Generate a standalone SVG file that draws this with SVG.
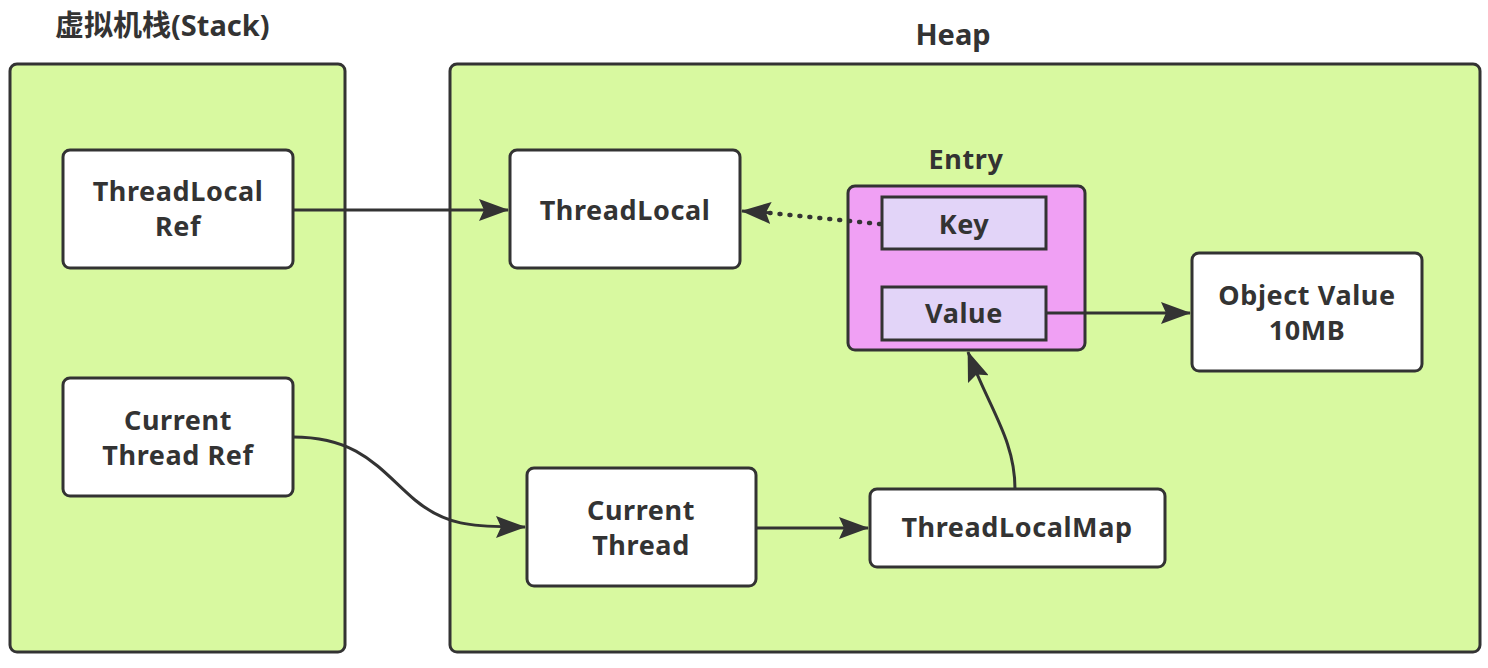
<svg xmlns="http://www.w3.org/2000/svg" width="1488" height="668" viewBox="0 0 1488 668">
<defs>
<style>
.cont{fill:#d8f9a0;stroke:#333;stroke-width:3}
.box{fill:#fff;stroke:#333;stroke-width:3}
.entry{fill:#f0a0f4;stroke:#333;stroke-width:3}
.kv{fill:#e2d4f8;stroke:#333;stroke-width:3}
.t{font-family:"Noto Sans","Noto Sans CJK SC",sans-serif;font-weight:bold;font-size:27px;letter-spacing:0.6px;fill:#333;text-anchor:middle}
.title{font-family:"Noto Sans","Noto Sans CJK SC",sans-serif;font-weight:bold;font-size:29px;fill:#333}
.ln{fill:none;stroke:#333;stroke-width:3}
.dot{fill:none;stroke:#333;stroke-width:4.5;stroke-dasharray:1 9;stroke-linecap:round}
</style>
<marker id="arrL" markerWidth="30" markerHeight="22" refX="29" refY="11" orient="auto" markerUnits="userSpaceOnUse" viewBox="0 0 30 22">
<path d="M0,0 L30,11 L0,22 L5,11 Z" fill="#333"/>
</marker>
</defs>

<g id="stack">
<rect class="cont" x="10" y="64" width="335" height="588" rx="7"/>
<text class="title" x="55" y="36">虚拟机栈(Stack)</text>
</g>
<g id="heap">
<rect class="cont" x="450" y="64" width="1030" height="588" rx="7"/>
<text class="title" x="953" y="45" text-anchor="middle">Heap</text>
</g>

<g id="threadlocal-ref">
<rect class="box" x="63" y="150" width="230" height="118" rx="7"/>
<text class="t" x="178" y="201">ThreadLocal</text>
<text class="t" x="178" y="236">Ref</text>
</g>
<g id="current-thread-ref">
<rect class="box" x="63" y="378" width="230" height="118" rx="7"/>
<text class="t" x="178" y="430">Current</text>
<text class="t" x="178" y="465">Thread Ref</text>
</g>
<g id="threadlocal">
<rect class="box" x="510" y="150" width="230" height="118" rx="7"/>
<text class="t" x="625" y="220">ThreadLocal</text>
</g>
<g id="entry">
<rect class="entry" x="848" y="186" width="237" height="164" rx="7"/>
<text class="t" x="966" y="169">Entry</text>
</g>
<g id="key">
<rect class="kv" x="882" y="197" width="164" height="52"/>
<text class="t" x="964" y="234">Key</text>
</g>
<g id="value">
<rect class="kv" x="882" y="287" width="164" height="53"/>
<text class="t" x="964" y="323">Value</text>
</g>
<g id="object-value">
<rect class="box" x="1192" y="253" width="230" height="118" rx="7"/>
<text class="t" x="1307" y="305">Object Value</text>
<text class="t" x="1307" y="340">10MB</text>
</g>
<g id="current-thread">
<rect class="box" x="527" y="468" width="229" height="118" rx="7"/>
<text class="t" x="641" y="520">Current</text>
<text class="t" x="641" y="555">Thread</text>
</g>
<g id="threadlocalmap">
<rect class="box" x="870" y="489" width="295" height="78" rx="7"/>
<text class="t" x="1017" y="537">ThreadLocalMap</text>
</g>

<g id="connectors">
<path class="ln" d="M293,210 L508,210" marker-end="url(#arrL)"/>
<path class="dot" d="M880,224 L770,213"/>
<path class="ln" d="M772,213 L742,211" marker-end="url(#arrL)" stroke-width="1"/>
<path class="ln" d="M1046,313 L1190,313" marker-end="url(#arrL)"/>
<path class="ln" d="M293,437 C360,437 380,470 415,500 C445,525 470,527 525,527" marker-end="url(#arrL)"/>
<path class="ln" d="M756,528 L868,528" marker-end="url(#arrL)"/>
<path class="ln" d="M1015,489 C1015,440 990,410 968,352" marker-end="url(#arrL)"/>
</g>
</svg>
